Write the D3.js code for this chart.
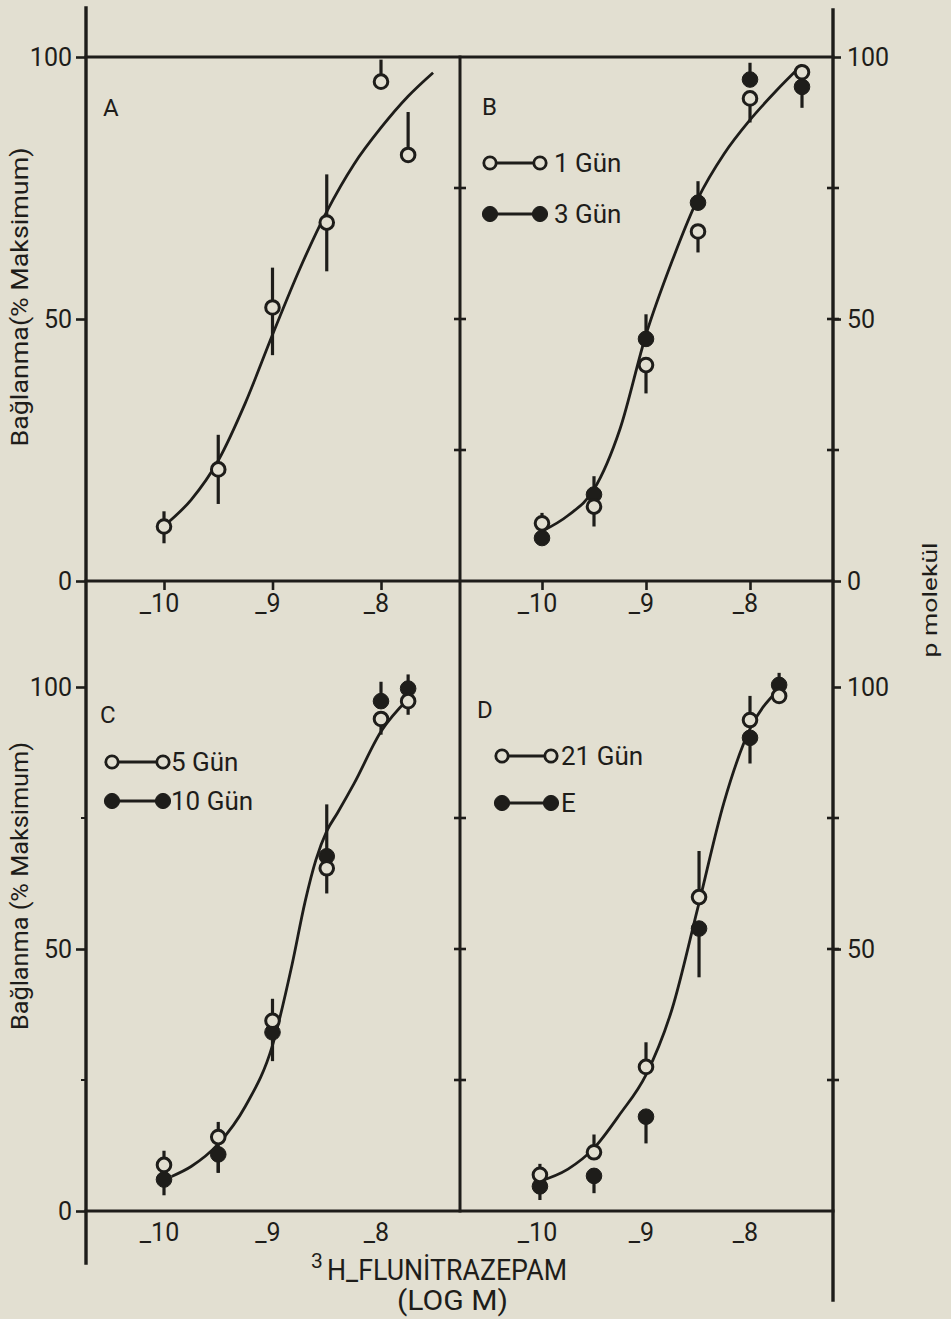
<!DOCTYPE html>
<html lang="tr">
<head>
<meta charset="UTF-8">
<title>3H-Flunitrazepam bağlanma</title>
<script src="https://d3js.org/d3.v7.min.js"></script>
<style>
  body { margin: 0; background: #e2dfd1; }
  svg { display: block; }
  text { font-family: Roboto, "DejaVu Sans", sans-serif; fill: #1e1d1a; }
</style>
</head>
<body>
<svg id="chart" width="951" height="1319"></svg>
<script>
// x axis: log M
const xTicks = [-10, -9, -8];
const yTicks = [0, 50, 100];
const yMinor = [25, 50, 75];

// panel A (open only)
const aX = [-10, -9.5, -9, -8.5, -8, -7.75];
const aOpen = [10.4, 21.3, 52.2, 68.4, 95.3, 81.3];
const aOpenLo = [7.2, 14.7, 43.1, 59.1, 95.3, 81.3];
const aOpenHi = [13.3, 27.9, 59.8, 77.6, 99.5, 89.5];
const aCurveX = [-10, -9.75, -9.5, -9.25, -9, -8.75, -8.5, -8.25, -8, -7.75, -7.52];
const aCurveY = [10.5, 15.5, 23, 34, 47, 59.5, 70.5, 79.5, 86.5, 92.5, 97];

// panel B: 1 Gün (open), 3 Gün (filled)
const bX = [-10, -9.5, -9, -8.5, -8, -7.5];
const bOpen = [11, 14.2, 41.2, 66.7, 92.1, 97.1];
const bOpenLo = [11, 10.4, 35.8, 62.7, 87.5, 97.1];
const bOpenHi = [13, 14.2, 41.2, 66.7, 92.1, 98.5];
const bFill = [8.2, 16.5, 46.2, 72.2, 95.7, 94.3];
const bFillLo = [8.2, 16.5, 46.2, 72.2, 95.7, 90.3];
const bFillHi = [8.2, 20, 50.9, 76.3, 98.9, 94.3];
const bCurveX = [-10, -9.75, -9.5, -9.25, -9, -8.75, -8.5, -8.25, -8, -7.75, -7.5];
const bCurveY = [9.5, 12.5, 17.5, 29, 47, 61, 73, 81.5, 88, 93.5, 98.5];

// panel C: 5 Gün (open), 10 Gün (filled)
const cX = [-10, -9.5, -9, -8.5, -8, -7.75];
const cOpen = [8.8, 14.1, 36.3, 65.4, 93.9, 97.3];
const cOpenLo = [8.8, 7.3, 28.6, 60.6, 90.9, 94.7];
const cOpenHi = [11.5, 17, 40.5, 77.6, 93.9, 97.3];
const cFill = [6.0, 10.8, 34.1, 67.7, 97.3, 99.7];
const cFillLo = [3.0, 7.3, 34.1, 67.7, 97.3, 99.7];
const cFillHi = [6.0, 10.8, 34.1, 67.7, 101, 102.4];
const cCurveX = [-9.93, -9.75, -9.5, -9.25, -9, -8.82, -8.7, -8.6, -8.5, -8.4, -8.25, -8, -7.75];
const cCurveY = [6.6, 8.5, 12.8, 20, 31.6, 47, 59, 67, 72.5, 76, 81.5, 91.5, 97.7];

// panel D: 21 Gün (open), E (filled)
const dX = [-10.02, -9.5, -9, -8.49, -8, -7.72];
const dOpen = [6.9, 11.2, 27.5, 59.9, 93.7, 98.3];
const dOpenLo = [6.9, 11.2, 27.5, 59.9, 93.7, 98.3];
const dOpenHi = [9, 14.6, 32.2, 68.7, 98.3, 98.3];
const dFill = [4.7, 6.7, 18.0, 53.9, 90.3, 100.4];
const dFillLo = [2.1, 3.4, 12.9, 44.6, 85.4, 100.4];
const dFillHi = [4.7, 6.7, 18.0, 53.9, 90.3, 102.7];
const dCurveX = [-10.05, -9.75, -9.5, -9.25, -9, -8.75, -8.5, -8.25, -8, -7.75];
const dCurveY = [5.5, 8, 12, 18.5, 26, 38.5, 58, 78, 92, 99];

const legendB = ["1 Gün", "3 Gün"];
const legendC = ["5 Gün", "10 Gün"];
const legendD = ["21 Gün", "E"];

const ink = "#1e1d1a", paper = "#e2dfd1";
const svg = d3.select("#chart");

// frame
const xLeftAxis = 86, xMid = 460, xRight = 833;
const leftX = d3.scaleLinear().domain([-10, -8]).range([164, 381]);
const rightX = d3.scaleLinear().domain([-10, -8]).range([542, 750]);
const topY = d3.scaleLinear().domain([0, 100]).range([581, 57]);
const botY = d3.scaleLinear().domain([0, 100]).range([1211, 687]);

function rule(x1, y1, x2, y2, w) {
    svg.append("line").attr("x1", x1).attr("y1", y1).attr("x2", x2).attr("y2", y2)
        .attr("stroke", ink).attr("stroke-width", w).attr("stroke-linecap", "square");
}
rule(xLeftAxis, 8, xLeftAxis, 1263, 3.4);
rule(xRight, 10, xRight, 1300, 3.4);
rule(xMid, topY(100), xMid, botY(0), 3);
rule(xLeftAxis, topY(100), xRight, topY(100), 3);
rule(xLeftAxis, topY(0), xRight, topY(0), 3);
rule(xLeftAxis, botY(0), xRight, botY(0), 3);

function styleAxis(g, size) {
    g.select(".domain").remove();
    g.selectAll("line").attr("stroke", ink).attr("stroke-width", 2.6);
    g.selectAll("text").attr("font-size", size).attr("fill", ink)
        .style("font-family", "Roboto, 'DejaVu Sans', sans-serif");
}

// y axes
[topY, botY].forEach(y => {
    svg.append("g").attr("transform", `translate(${xLeftAxis},0)`)
        .call(d3.axisLeft(y).tickValues(yTicks).tickSize(10).tickPadding(4))
        .call(g => styleAxis(g, 25));
    svg.append("g").attr("transform", `translate(${xRight},0)`)
        .call(d3.axisRight(y).tickValues(y === topY ? yTicks : [50, 100]).tickSize(8).tickPadding(6))
        .call(g => styleAxis(g, 25));
    [xMid, xRight].forEach(xx => {
        svg.append("g").selectAll("line").data(yMinor).enter().append("line")
            .attr("x1", xx - 6).attr("x2", xx + 6)
            .attr("y1", d => y(d)).attr("y2", d => y(d))
            .attr("stroke", ink).attr("stroke-width", 2.6);
    });
});
svg.append("g").selectAll("line").data([25, 75]).enter().append("line")
    .attr("x1", xLeftAxis - 5).attr("x2", xLeftAxis)
    .attr("y1", d => botY(d)).attr("y2", d => botY(d))
    .attr("stroke", ink).attr("stroke-width", 2);

// x axes
const fmt = d => "_" + Math.abs(d);
[leftX, rightX].forEach(x => {
    svg.append("g").attr("transform", `translate(0,${topY(0)})`)
        .call(d3.axisBottom(x).tickValues(xTicks).tickFormat(fmt).tickSize(9).tickPadding(4))
        .call(g => styleAxis(g, 25))
        .selectAll("text").attr("dx", "-0.2em");
    svg.append("g").attr("transform", `translate(0,${botY(0)})`)
        .call(d3.axisBottom(x).tickValues(xTicks).tickFormat(fmt).tickSize(0).tickPadding(12))
        .call(g => styleAxis(g, 25))
        .selectAll("text").attr("dx", "-0.2em");
});

const panels = [
    { x: leftX, y: topY, xs: aX, cx: aCurveX, cy: aCurveY,
      series: [{ filled: false, v: aOpen, lo: aOpenLo, hi: aOpenHi }] },
    { x: rightX, y: topY, xs: bX, cx: bCurveX, cy: bCurveY,
      series: [{ filled: true, v: bFill, lo: bFillLo, hi: bFillHi },
               { filled: false, v: bOpen, lo: bOpenLo, hi: bOpenHi }] },
    { x: leftX, y: botY, xs: cX, cx: cCurveX, cy: cCurveY,
      series: [{ filled: true, v: cFill, lo: cFillLo, hi: cFillHi },
               { filled: false, v: cOpen, lo: cOpenLo, hi: cOpenHi }] },
    { x: rightX, y: botY, xs: dX, cx: dCurveX, cy: dCurveY,
      series: [{ filled: true, v: dFill, lo: dFillLo, hi: dFillHi },
               { filled: false, v: dOpen, lo: dOpenLo, hi: dOpenHi }] }
];

panels.forEach(p => {
    const g = svg.append("g");
    p.series.forEach(s => {
        g.selectAll(null).data(s.v).enter().append("line")
            .attr("x1", (d, i) => p.x(p.xs[i])).attr("x2", (d, i) => p.x(p.xs[i]))
            .attr("y1", (d, i) => p.y(s.lo[i])).attr("y2", (d, i) => p.y(s.hi[i]))
            .attr("stroke", ink).attr("stroke-width", 3.2);
    });
    const line = d3.line()
        .x((d, i) => p.x(p.cx[i]))
        .y(d => p.y(d))
        .curve(d3.curveMonotoneX);
    g.append("path").datum(p.cy).attr("d", line)
        .attr("fill", "none").attr("stroke", ink).attr("stroke-width", 2.8);
    p.series.forEach(s => {
        g.selectAll(null).data(s.v).enter().append("circle")
            .attr("cx", (d, i) => p.x(p.xs[i])).attr("cy", d => p.y(d))
            .attr("r", s.filled ? 7.8 : 6.8)
            .attr("fill", s.filled ? ink : paper)
            .attr("stroke", ink).attr("stroke-width", s.filled ? 1 : 3);
    });
});

// legends
function legend(labels, x1, x2, yy, tx) {
    labels.forEach((lab, i) => {
        const filled = i === 1;
        svg.append("line").attr("x1", x1).attr("x2", x2).attr("y1", yy[i]).attr("y2", yy[i])
            .attr("stroke", ink).attr("stroke-width", 2.8);
        [x1, x2].forEach(cx => svg.append("circle").attr("cx", cx).attr("cy", yy[i])
            .attr("r", filled ? 7.6 : 6.2)
            .attr("fill", filled ? ink : paper).attr("stroke", ink)
            .attr("stroke-width", filled ? 1 : 2.8));
        svg.append("text").attr("x", tx).attr("y", yy[i] + 9).attr("font-size", 26).text(lab);
    });
}
legend(legendB, 490, 540, [163, 214], 554);
legend(legendC, 112, 163, [762, 801], 171);
legend(legendD, 502, 551, [756, 803], 561);

// panel letters
[["A", 103, 116], ["B", 482, 115], ["C", 100, 723], ["D", 477, 718]].forEach(([t, x, y]) =>
    svg.append("text").attr("x", x).attr("y", y).attr("font-size", 24).text(t));

// axis titles
[["Bağlanma(% Maksimum)", 297, 299], ["Bağlanma (% Maksimum)", 886, 288]].forEach(([t, cy, len]) =>
    svg.append("text").attr("transform", `translate(28,${cy}) rotate(-90)`)
        .attr("text-anchor", "middle").attr("font-size", 24)
        .attr("textLength", len).attr("lengthAdjust", "spacingAndGlyphs").text(t));

svg.append("text").attr("transform", "translate(937,600) rotate(-90)")
    .attr("text-anchor", "middle").attr("font-size", 21)
    .attr("textLength", 115).attr("lengthAdjust", "spacingAndGlyphs").text("p molekül");

const title = svg.append("text").attr("x", 311).attr("y", 1280).attr("font-size", 30);
title.append("tspan").attr("font-size", 21).attr("dy", -12).text("3");
title.append("tspan").attr("x", 327).attr("dy", 12).attr("textLength", 240)
    .attr("lengthAdjust", "spacingAndGlyphs").text("H_FLUNİTRAZEPAM");
svg.append("text").attr("x", 397).attr("y", 1310).attr("font-size", 28)
    .attr("textLength", 111).attr("lengthAdjust", "spacingAndGlyphs").text("(LOG M)");
</script>
</body>
</html>
